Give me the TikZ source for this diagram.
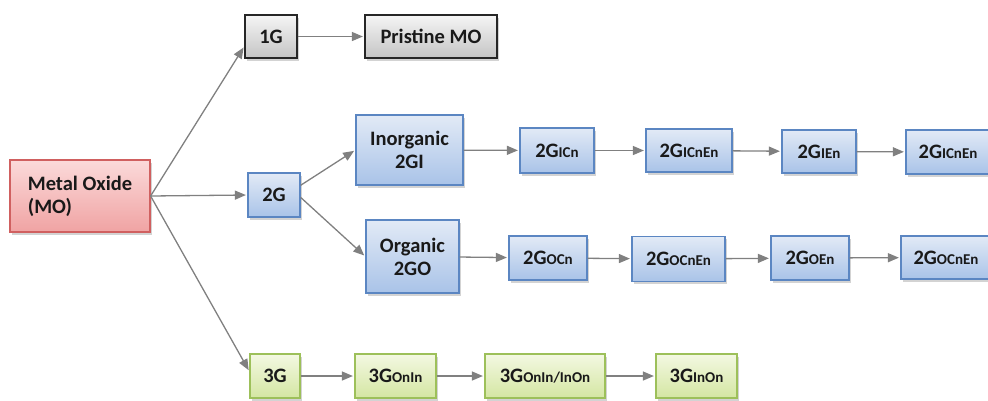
\documentclass[tikz,border=0pt]{standalone}
\usepackage{fontspec}
\setmainfont{Carlito}
\usetikzlibrary{arrows.meta,shadows,positioning}

\definecolor{redtop}{HTML}{FBDADA}
\definecolor{redbot}{HTML}{F0A3A3}
\definecolor{redline}{HTML}{D06060}
\definecolor{bluetop}{HTML}{E2EAF6}
\definecolor{bluebot}{HTML}{A9C3E8}
\definecolor{blueline}{HTML}{5B86C2}
\definecolor{graytop}{HTML}{F5F5F5}
\definecolor{graybot}{HTML}{C4C4C4}
\definecolor{grayline}{HTML}{262626}
\definecolor{greentop}{HTML}{F3F8E2}
\definecolor{greenbot}{HTML}{D4E6A2}
\definecolor{greenline}{HTML}{9DC05A}
\definecolor{conn}{HTML}{808080}

% small trailing letters of the generation labels
\newcommand{\gsub}[1]{{\fontsize{15}{16}\selectfont #1}}

\tikzset{
  box/.style={draw, line width=1.2pt, minimum width=#1, inner sep=0pt,
    font=\fontsize{20.5}{23}\selectfont\bfseries, text=black!90, align=center,
    drop shadow={opacity=0.35, shadow xshift=1.5pt, shadow yshift=-2.5pt}},
  redbox/.style={box=#1, draw=redline, top color=redtop, bottom color=redbot},
  bluebox/.style={box=#1, draw=blueline, top color=bluetop, bottom color=bluebot},
  graybox/.style={box=#1, draw=grayline, top color=graytop, bottom color=graybot},
  greenbox/.style={box=#1, draw=greenline, top color=greentop, bottom color=greenbot},
  link/.style={draw=conn, line width=1.3pt, -{Triangle[length=11pt,width=9pt]}, shorten >=1.5pt},
}

\begin{document}
\begin{tikzpicture}[x=1pt, y=-1pt]
\useasboundingbox (0,0) rectangle (988,400);

% root
\node[redbox=140pt, minimum height=72pt, align=left] (mo) at (80,196)
  {Metal Oxide\\(MO)};

% first generation
\node[graybox=52pt, minimum height=43pt] (g1) at (271,36.5) {1G};
\node[graybox=132pt, minimum height=43pt] (pris) at (431,36.5) {Pristine MO};

% second generation
\node[bluebox=52pt, minimum height=44pt] (g2) at (274,195) {2G};
\node[bluebox=107pt, minimum height=70pt] (inorg) at (409.5,150) {Inorganic\\2GI};
\node[bluebox=93pt, minimum height=73pt] (org) at (412.5,256.5) {Organic\\2GO};

\node[bluebox=74pt, minimum height=45pt] (ia) at (557,150.5) {2G\gsub{ICn}};
\node[bluebox=86pt, minimum height=43pt] (ib) at (689,150.5) {2G\gsub{ICnEn}};
\node[bluebox=74pt, minimum height=43pt] (ic) at (819,151.5) {2G\gsub{IEn}};
\node[bluebox=84pt, minimum height=44pt] (id) at (948,152) {2G\gsub{ICnEn}};

\node[bluebox=78pt, minimum height=44pt] (oa) at (548,258) {2G\gsub{OCn}};
\node[bluebox=93pt, minimum height=45pt] (ob) at (678.5,259) {2G\gsub{OCnEn}};
\node[bluebox=78pt, minimum height=44pt] (oc) at (810,258) {2G\gsub{OEn}};
\node[bluebox=90pt, minimum height=43pt] (od) at (946,257.5) {2G\gsub{OCnEn}};

% third generation
\node[greenbox=50pt, minimum height=44pt] (g3) at (275,376) {3G};
\node[greenbox=81pt, minimum height=44pt] (ta) at (395.5,376) {3G\gsub{OnIn}};
\node[greenbox=120pt, minimum height=44pt] (tb) at (545,376) {3G\gsub{OnIn/InOn}};
\node[greenbox=81pt, minimum height=44pt] (tc) at (696.5,376) {3G\gsub{InOn}};

% connectors
\draw[link] (mo.east) -- (g1.200);
\draw[link] (mo.east) -- (g2.west);
\draw[link] (mo.east) -- (g3.170);
\draw[link] (g1) -- (pris);
\draw[link] (g2.20) -- (inorg.west);
\draw[link] (g2.-5) -- (org.west);
\draw[link] (inorg) -- (ia);
\draw[link] (ia) -- (ib);
\draw[link] (ib) -- (ic);
\draw[link] (ic) -- (id);
\draw[link] (org) -- (oa);
\draw[link] (oa) -- (ob);
\draw[link] (ob) -- (oc);
\draw[link] (oc) -- (od);
\draw[link] (g3) -- (ta);
\draw[link] (ta) -- (tb);
\draw[link] (tb) -- (tc);
\end{tikzpicture}
\end{document}
